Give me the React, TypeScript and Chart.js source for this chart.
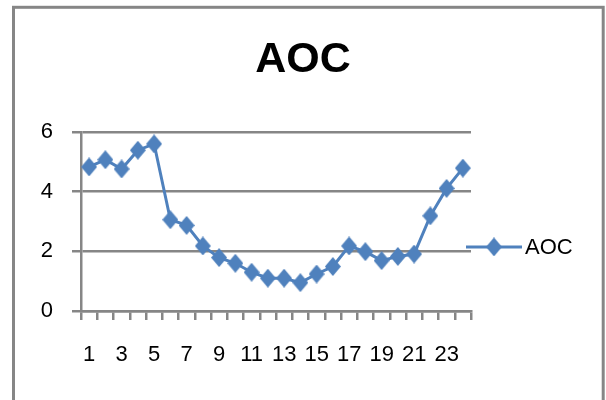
import React, { useEffect, useRef } from 'react';
import { Chart, registerables } from 'chart.js';

Chart.register(...registerables);

const categories = ['1', '2', '3', '4', '5', '6', '7', '8', '9', '10', '11', '12', '13', '14', '15', '16', '17', '18', '19', '20', '21', '22', '23', '24'];
const aocValues = [4.83, 5.07, 4.76, 5.39, 5.6, 3.06, 2.87, 2.18, 1.79, 1.6, 1.3, 1.1, 1.1, 0.95, 1.24, 1.49, 2.18, 1.99, 1.69, 1.83, 1.91, 3.19, 4.11, 4.79];
const yTickValues = [0, 2, 4, 6];
const seriesName = 'AOC';
const titleText = 'AOC';

const FONT = '"Liberation Sans", Arial, sans-serif';
const BLUE = '#4F81BD';
const GRID = '#868686';

function makeMarker(): HTMLCanvasElement {
  const c = document.createElement('canvas');
  const w = 16;
  const h = 19;
  c.width = w;
  c.height = h;
  const g = c.getContext('2d')!;
  g.fillStyle = BLUE;
  g.beginPath();
  g.moveTo(w / 2, 0);
  g.lineTo(w, h / 2);
  g.lineTo(w / 2, h);
  g.lineTo(0, h / 2);
  g.closePath();
  g.fill();
  return c;
}

export default function App() {
  const ref = useRef<HTMLCanvasElement | null>(null);

  useEffect(() => {
    document.body.style.margin = '0';
    if (!ref.current) return;
    const marker = makeMarker();

    const framePlugin = {
      id: 'frame',
      beforeDraw(chart: any) {
        const { ctx, width, height } = chart;
        ctx.save();
        ctx.fillStyle = '#fff';
        ctx.fillRect(0, 0, width, height);
        ctx.strokeStyle = GRID;
        ctx.lineWidth = 3;
        ctx.strokeRect(13.5, 7.3, 589.7, height + 20);
        ctx.restore();
      },
    };

    const legendPlugin = {
      id: 'excelLegend',
      afterDraw(chart: any) {
        const { ctx, chartArea } = chart;
        const ds = chart.data.datasets[0];
        const y = chartArea.top + (chartArea.bottom - chartArea.top) * 0.642;
        const x0 = chartArea.right - 5;
        const x1 = x0 + 56;
        ctx.save();
        ctx.strokeStyle = ds.borderColor;
        ctx.lineWidth = 3;
        ctx.beginPath();
        ctx.moveTo(x0, y);
        ctx.lineTo(x1, y);
        ctx.stroke();
        ctx.drawImage(marker, (x0 + x1) / 2 - marker.width / 2, y - marker.height / 2);
        ctx.fillStyle = '#000';
        ctx.font = `22px ${FONT}`;
        ctx.textBaseline = 'middle';
        ctx.textAlign = 'left';
        ctx.fillText(ds.label, x1 + 3, y + 1);
        ctx.restore();
      },
    };

    const chart = new Chart(ref.current, {
      type: 'line',
      data: {
        labels: categories,
        datasets: [
          {
            label: seriesName,
            data: aocValues,
            borderColor: BLUE,
            backgroundColor: BLUE,
            borderWidth: 3,
            pointStyle: marker as any,
            pointRadius: 8,
            tension: 0,
            yAxisID: 'y',
          },
        ],
      },
      options: {
        animation: false,
        responsive: true,
        maintainAspectRatio: false,
        layout: { padding: 0 },
        plugins: {
          legend: { display: false },
          tooltip: { enabled: false },
          title: {
            display: true,
            text: titleText,
            color: '#000',
            font: { family: FONT, size: 43, weight: 'bold' },
            padding: { top: 34, bottom: 46.4 },
          },
        },
        scales: {
          x: {
            type: 'category',
            offset: true,
            grid: {
              display: true,
              drawOnChartArea: false,
              drawTicks: true,
              tickLength: 9,
              offset: true,
              color: GRID,
              lineWidth: 2.5,
            },
            border: { display: true, color: GRID, width: 2.5 },
            ticks: {
              autoSkip: false,
              maxRotation: 0,
              minRotation: 0,
              padding: 22,
              color: '#000',
              font: { family: FONT, size: 22 },
              callback: (_v: any, i: number) => (i % 2 === 0 ? categories[i] : ''),
            },
            afterFit: (s: any) => {
              s.height = 89;
            },
          },
          y: {
            min: yTickValues[0],
            max: yTickValues[yTickValues.length - 1],
            afterBuildTicks: (s: any) => {
              s.ticks = yTickValues.map((v) => ({ value: v }));
            },
            ticks: {
              stepSize: 2,
              padding: 19,
              color: '#000',
              font: { family: FONT, size: 22 },
            },
            grid: { color: GRID, lineWidth: 2.5, tickLength: 9 },
            border: { display: true, color: GRID, width: 2.5 },
            afterFit: (s: any) => {
              s.width = 81;
            },
          },
          legendSpace: {
            type: 'linear',
            position: 'right',
            display: true,
            grid: { display: false, drawTicks: false },
            border: { display: false },
            ticks: { display: false },
            afterFit: (s: any) => {
              s.width = 135;
            },
          },
        },
      },
      plugins: [framePlugin, legendPlugin],
    });

    return () => chart.destroy();
  }, []);

  return (
    <div style={{ position: 'relative', width: 606, height: 400 }}>
      <canvas ref={ref} />
    </div>
  );
}
